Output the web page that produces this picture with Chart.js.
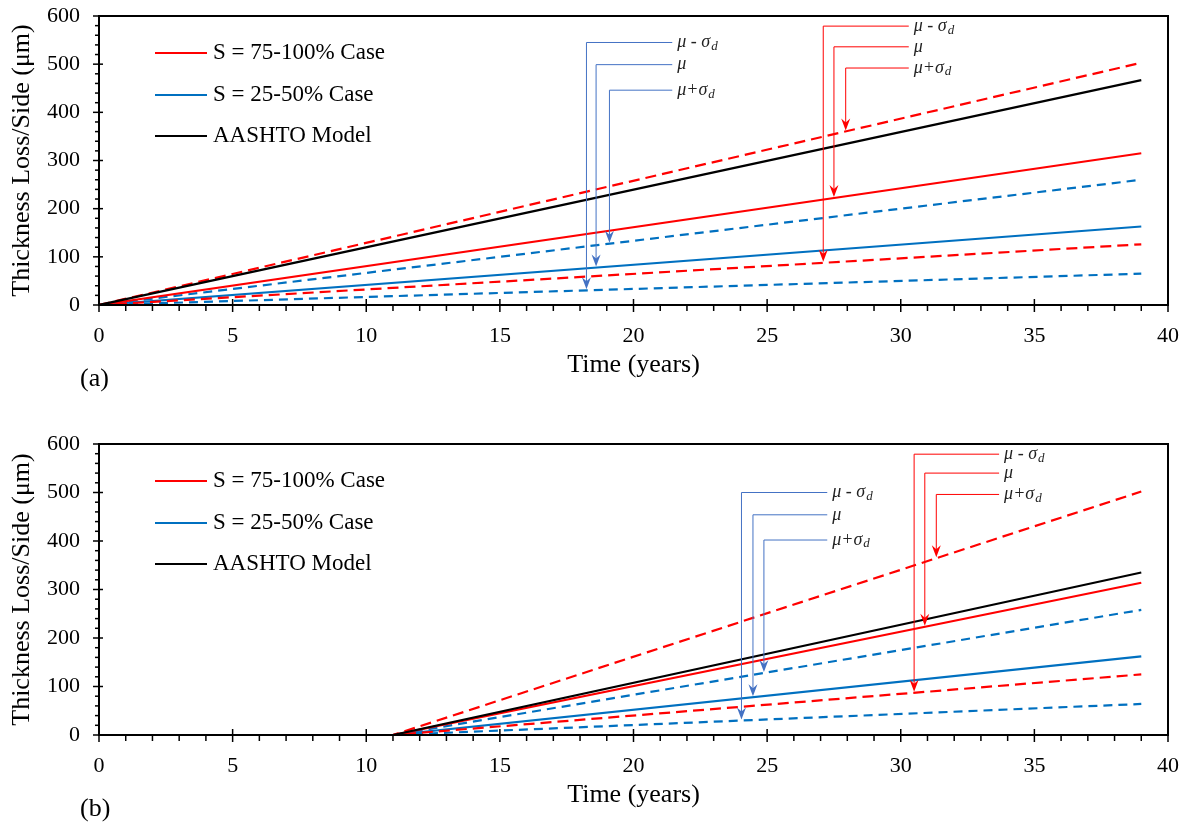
<!DOCTYPE html>
<html>
<head>
<meta charset="utf-8">
<title>Thickness loss over time</title>
<script src="https://cdn.jsdelivr.net/npm/chart.js@4.4.0/dist/chart.umd.min.js"></script>
<style>
  html, body { margin: 0; padding: 0; background: #fff; }
  #wrap { width: 1189px; height: 828px; }
  canvas { display: block; }
</style>
</head>
<body>
<div id="wrap">
  <canvas id="chartA" width="1189" height="414"></canvas>
  <canvas id="chartB" width="1189" height="414"></canvas>
</div>
<script>
// time (years)
const yearsA = [0, 39];
const yearsB = [0, 11, 39];

// thickness loss per side (µm) - panel (a), loss starts at year 0
const aashtoA    = [0, 467];
const redPlusA   = [0, 503];
const redMuA     = [0, 315];
const redMinusA  = [0, 126];
const bluePlusA  = [0, 260];
const blueMuA    = [0, 163];
const blueMinusA = [0, 65];

// panel (b), loss starts once the zinc is gone at year 11
const aashtoB    = [0, 0, 335];
const redPlusB   = [0, 0, 502];
const redMuB     = [0, 0, 314];
const redMinusB  = [0, 0, 125];
const bluePlusB  = [0, 0, 258];
const blueMuB    = [0, 0, 162];
const blueMinusB = [0, 0, 64];

const caseNames = ['S = 75-100% Case', 'S = 25-50% Case', 'AASHTO Model'];
const xTicks = [0, 5, 10, 15, 20, 25, 30, 35, 40];
const yTicks = [0, 100, 200, 300, 400, 500, 600];

const RED = '#ff0000';
const BLUE = '#0070c0';
const NOTE_BLUE = '#4472c4';
const SERIF = '"Liberation Serif", "Times New Roman", serif';

function line(label, xs, ys, color, dash) {
    return {
        label: label,
        data: xs.map((t, i) => ({ x: t, y: ys[i] })),
        borderColor: color,
        borderWidth: 2.2,
        borderDash: dash || [],
        pointRadius: 0,
        fill: false,
        tension: 0
    };
}

// value of a polyline at year t
function valueAt(xs, ys, t) {
    for (let i = 1; i < xs.length; i++) {
        if (t <= xs[i]) {
            const f = (t - xs[i - 1]) / (xs[i] - xs[i - 1]);
            return ys[i - 1] + f * (ys[i] - ys[i - 1]);
        }
    }
    return ys[ys.length - 1];
}

// frame, minor ticks, legend, arrow callouts and panel tag
const decorations = {
    id: 'decorations',
    afterDatasetsDraw(chart, args, opts) {
        const { ctx, chartArea: area, scales: { x, y } } = chart;
        ctx.save();

        ctx.strokeStyle = '#000';
        ctx.lineWidth = 2;
        ctx.strokeRect(area.left, area.top, area.right - area.left, area.bottom - area.top);

        ctx.lineWidth = 1.5;
        for (let v = 0; v <= 600; v += 20) {
            const py = y.getPixelForValue(v);
            const major = v % 100 === 0;
            ctx.beginPath();
            ctx.moveTo(area.left - (major ? 6 : 4), py);
            ctx.lineTo(area.left + (major ? 4 : 0), py);
            ctx.stroke();
        }
        for (let t = 0; t <= 40; t += 1) {
            const px = x.getPixelForValue(t);
            const major = t % 5 === 0;
            ctx.beginPath();
            ctx.moveTo(px, area.bottom - (major ? 6 : 0));
            ctx.lineTo(px, area.bottom + (major ? 7 : 6));
            ctx.stroke();
        }

        // legend
        const legendColors = [RED, BLUE, '#000'];
        const legendRows = [37, 79, 120];
        ctx.font = '23px ' + SERIF;
        ctx.textBaseline = 'middle';
        ctx.textAlign = 'left';
        caseNames.forEach((name, i) => {
            const ly = area.top + legendRows[i];
            ctx.strokeStyle = legendColors[i];
            ctx.lineWidth = 2;
            ctx.beginPath();
            ctx.moveTo(155, ly);
            ctx.lineTo(207, ly);
            ctx.stroke();
            ctx.fillStyle = '#000';
            ctx.fillText(name, 213, ly);
        });

        // callouts pointing at the mean and ±σ curves
        opts.notes.forEach(n => {
            const vx = x.getPixelForValue(n.at);
            const ly = y.getPixelForValue(n.level);
            const ex = x.getPixelForValue(n.end);
            const tip = y.getPixelForValue(valueAt(n.xs, n.ys, n.at)) - 1;
            ctx.strokeStyle = n.color;
            ctx.fillStyle = n.color;
            ctx.lineWidth = 1;
            ctx.beginPath();
            ctx.moveTo(ex, ly);
            ctx.lineTo(vx, ly);
            ctx.lineTo(vx, tip - 7);
            ctx.stroke();
            ctx.beginPath();
            ctx.moveTo(vx, tip);
            ctx.lineTo(vx - 4.5, tip - 12);
            ctx.lineTo(vx, tip - 8);
            ctx.lineTo(vx + 4.5, tip - 12);
            ctx.closePath();
            ctx.fill();

            ctx.fillStyle = '#222';
            ctx.font = 'italic 18px ' + SERIF;
            ctx.fillText(n.text, ex + 5, ly);
            if (n.sub) {
                const w = ctx.measureText(n.text).width;
                ctx.font = 'italic 13px ' + SERIF;
                ctx.fillText(n.sub, ex + 5 + w + 1, ly + 4);
            }
        });

        ctx.fillStyle = '#000';
        ctx.font = '26px ' + SERIF;
        ctx.fillText(opts.tag, 80, area.bottom + 74);
        ctx.restore();
    }
};

function buildChart(id, xs, series, notes, tag, pad) {
    const [aashto, redPlus, redMu, redMinus, bluePlus, blueMu, blueMinus] = series;
    return new Chart(document.getElementById(id), {
        type: 'line',
        data: {
            datasets: [
                line(caseNames[2], xs, aashto, '#000'),
                line(caseNames[0], xs, redMu, RED),
                line('red +σ', xs, redPlus, RED, [11, 6]),
                line('red -σ', xs, redMinus, RED, [11, 6]),
                line(caseNames[1], xs, blueMu, BLUE),
                line('blue +σ', xs, bluePlus, BLUE, [9, 6]),
                line('blue -σ', xs, blueMinus, BLUE, [9, 6])
            ]
        },
        options: {
            responsive: false,
            animation: false,
            layout: { padding: pad },
            plugins: {
                legend: { display: false },
                tooltip: { enabled: false },
                decorations: { notes: notes, tag: tag }
            },
            scales: {
                x: {
                    type: 'linear',
                    min: 0,
                    max: 40,
                    afterBuildTicks: s => { s.ticks = xTicks.map(v => ({ value: v })); },
                    afterFit: s => {
                        s.height = 80;
                        s.paddingLeft = 0;
                        s.paddingRight = 0;
                    },
                    ticks: { padding: 18, maxRotation: 0, color: '#000', font: { family: SERIF, size: 22 } },
                    grid: { display: false, drawTicks: false },
                    border: { display: false },
                    title: {
                        display: true,
                        text: 'Time (years)',
                        color: '#000',
                        font: { family: SERIF, size: 26 },
                        padding: { top: 4, bottom: 4 }
                    }
                },
                y: {
                    min: 0,
                    max: 600,
                    afterBuildTicks: s => { s.ticks = yTicks.map(v => ({ value: v })); },
                    afterFit: s => {
                        s.width = 96;
                        s.paddingTop = 0;
                        s.paddingBottom = 0;
                    },
                    ticks: { padding: 19, color: '#000', font: { family: SERIF, size: 22 } },
                    grid: { display: false, drawTicks: false },
                    border: { display: false },
                    title: {
                        display: true,
                        text: 'Thickness Loss/Side (μm)',
                        color: '#000',
                        font: { family: SERIF, size: 26 },
                        padding: { top: 4, bottom: 4 }
                    }
                }
            }
        },
        plugins: [decorations]
    });
}

function notesFor(xs, s, blue, red) {
    const [, redPlus, redMu, redMinus, bluePlus, blueMu, blueMinus] = s;
    return [
        { color: NOTE_BLUE, at: blue[0], level: blue[3], end: blue[6], xs: xs, ys: blueMinus, text: 'μ - σ', sub: 'd' },
        { color: NOTE_BLUE, at: blue[1], level: blue[4], end: blue[6], xs: xs, ys: blueMu, text: 'μ' },
        { color: NOTE_BLUE, at: blue[2], level: blue[5], end: blue[6], xs: xs, ys: bluePlus, text: 'μ+σ', sub: 'd' },
        { color: RED, at: red[0], level: red[3], end: red[6], xs: xs, ys: redMinus, text: 'μ - σ', sub: 'd' },
        { color: RED, at: red[1], level: red[4], end: red[6], xs: xs, ys: redMu, text: 'μ' },
        { color: RED, at: red[2], level: red[5], end: red[6], xs: xs, ys: redPlus, text: 'μ+σ', sub: 'd' }
    ];
}

const seriesA = [aashtoA, redPlusA, redMuA, redMinusA, bluePlusA, blueMuA, blueMinusA];
const seriesB = [aashtoB, redPlusB, redMuB, redMinusB, bluePlusB, blueMuB, blueMinusB];

// callout placement: three arrow years, three label heights, label start year
buildChart('chartA', yearsA, seriesA,
    notesFor(yearsA, seriesA, [18.24, 18.6, 19.1, 545, 499, 446, 21.45], [27.1, 27.5, 27.94, 579, 536, 492, 30.3]),
    '(a)', { left: 3, top: 16, right: 21, bottom: 29 });

buildChart('chartB', yearsB, seriesB,
    notesFor(yearsB, seriesB, [24.04, 24.47, 24.88, 500, 454, 402, 27.25], [30.5, 30.9, 31.33, 579, 540, 496, 33.68]),
    '(b)', { left: 3, top: 30, right: 21, bottom: 13 });
</script>
</body>
</html>
